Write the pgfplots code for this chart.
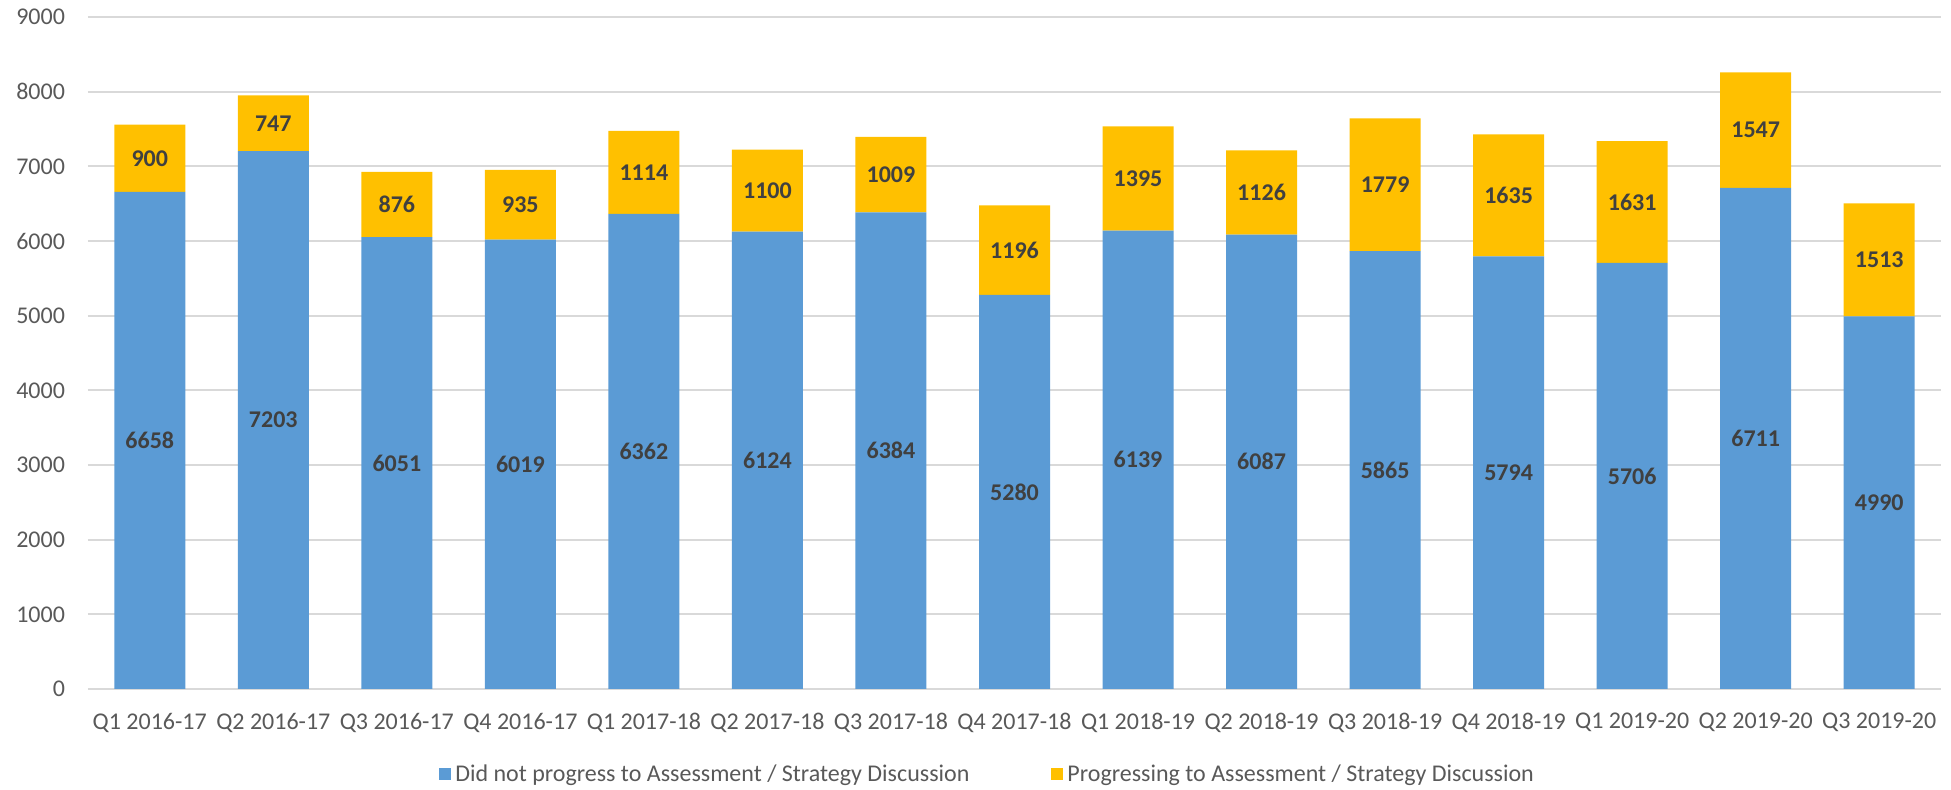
\documentclass[border=0pt]{standalone}
\usepackage{fontspec}
\setmainfont{Carlito}
\usepackage{pgfplots}
\usepackage{pgfplotstable}
\pgfplotsset{compat=1.18}
\definecolor{barblue}{RGB}{91,155,213}
\definecolor{bargold}{RGB}{255,192,0}
\definecolor{ticktxt}{RGB}{89,89,89}
\definecolor{valtxt}{RGB}{64,64,64}
\definecolor{gridgray}{RGB}{217,217,217}

%% b = did not progress, g = progressing
\pgfplotstableread{
x b g
0 6658 900
1 7203 747
2 6051 876
3 6019 935
4 6362 1114
5 6124 1100
6 6384 1009
7 5280 1196
8 6139 1395
9 6087 1126
10 5865 1779
11 5794 1635
12 5706 1631
13 6711 1547
14 4990 1513
}\quarters

\begin{document}
\begin{tikzpicture}
\useasboundingbox (-44pt,-50.5pt) rectangle (931.5pt,344.5pt);
\begin{axis}[
  at={(0,0)}, anchor=south west,
  width=926.5pt, height=336pt, scale only axis,
  ybar stacked, bar width=35.5pt,
  xmin=-0.5, xmax=14.5, ymin=0, ymax=9000,
  ytick={0,1000,...,9000},
  xtick={0,...,14},
  xticklabels={Q1 2016-17,Q2 2016-17,Q3 2016-17,Q4 2016-17,Q1 2017-18,Q2 2017-18,Q3 2017-18,Q4 2017-18,Q1 2018-19,Q2 2018-19,Q3 2018-19,Q4 2018-19,Q1 2019-20,Q2 2019-20,Q3 2019-20},
  axis line style={draw=none},
  tick style={draw=none},
  ymajorgrids, grid style={gridgray, line width=1pt},
  ticklabel style={font=\fontsize{12}{14}\selectfont, text=ticktxt},
  /pgf/number format/assume math mode=true,
  /pgf/number format/1000 sep={},
  yticklabel style={xshift=-8pt},
  xticklabel style={yshift=-8.5pt},
  legend style={at={(0.486,-0.127)}, anchor=center, draw=none, fill=none,
    legend columns=2, font=\fontsize{12}{14}\selectfont, text=ticktxt,
    /tikz/every even column/.append style={column sep=39pt}},
  point meta=explicit,
  nodes near coords={\pgfmathprintnumber{\pgfplotspointmeta}},
  nodes near coords align=center,
  every node near coord/.append style={font=\bfseries\fontsize{12}{14}\selectfont,
    text=valtxt, anchor=center},
]
\addplot[fill=barblue, draw=none,
  legend image code/.code={\fill[barblue] (0pt,-3pt) rectangle (6pt,3pt);}]
  table[x=x, y=b, meta=b] {\quarters};
\addlegendentry{Did not progress to Assessment / Strategy Discussion}
\addplot[fill=bargold, draw=none,
  legend image code/.code={\fill[bargold] (0pt,-3pt) rectangle (6pt,3pt);}]
  table[x=x, y=g, meta=g] {\quarters};
\addlegendentry{Progressing to Assessment / Strategy Discussion}
\end{axis}
\end{tikzpicture}
\end{document}
